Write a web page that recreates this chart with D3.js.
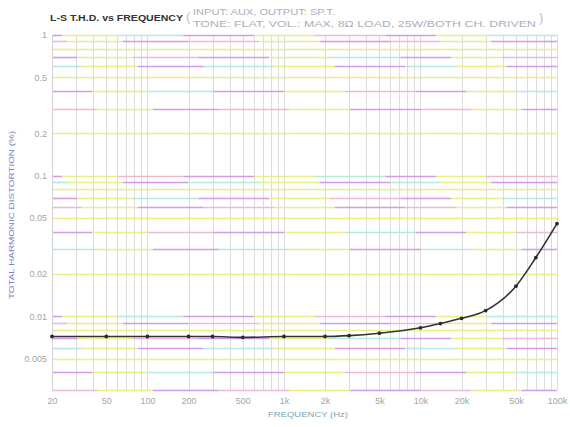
<!DOCTYPE html>
<html>
<head>
<meta charset="utf-8">
<script src="https://cdn.jsdelivr.net/npm/d3@7"></script>
<style>
  html, body { margin: 0; padding: 0; background: #fff; }
  svg { display: block; }
</style>
</head>
<body>
<svg id="chart" width="570" height="427"></svg>
<script>
// Measured THD (%) against frequency (Hz), left channel, 8 ohm load
const freqs = [20, 50, 100, 200, 300, 500, 1000, 2000, 3000, 5000, 10000, 14000, 20000, 30000, 50000, 70000, 100000];
const thd   = [0.0072, 0.0072, 0.0072, 0.0072, 0.0072, 0.0071, 0.0072, 0.0072, 0.0073, 0.0076, 0.0083, 0.0089, 0.0097, 0.0110, 0.0164, 0.0262, 0.0457];

// Axis tick labels
const xTickValues = [20, 50, 100, 200, 500, 1000, 2000, 5000, 10000, 20000, 50000, 100000];
const xTickLabels = ["20", "50", "100", "200", "500", "1k", "2k", "5k", "10k", "20k", "50k", "100k"];
const yTickValues = [1, 0.5, 0.2, 0.1, 0.05, 0.02, 0.01, 0.005];
const yTickLabels = ["1", "0.5", "0.2", "0.1", "0.05", "0.02", "0.01", "0.005"];

// Title texts
const titleMain = "L-S T.H.D. vs FREQUENCY";
const titleNote1 = "INPUT: AUX, OUTPUT: SP.T.";
const titleNote2 = "TONE: FLAT, VOL.: MAX, 8\u03A9 LOAD, 25W/BOTH CH. DRIVEN";
const yTitle = "TOTAL HARMONIC DISTORTION (%)";
const xTitle = "FREQUENCY (Hz)";

const svg = d3.select("#chart");
const plot = { left: 52, right: 557, top: 35, bottom: 390 };

const x = d3.scaleLog().domain([20, 100000]).range([plot.left, plot.right]);
const y = d3.scaleLog().domain([0.003, 1]).range([plot.bottom, plot.top]);

// Minor grid values: every 1..9 multiple within each decade
const xGrid = [];
for (let d = 10; d <= 100000; d *= 10)
  for (let m = 1; m <= 9; m++) { const v = d * m; if (v >= 20 && v <= 100000) xGrid.push(v); }
const yGrid = [];
for (let d = 0.001; d <= 1.0001; d *= 10)
  for (let m = 1; m <= 9; m++) { const v = +(d * m).toPrecision(3); if (v >= 0.003 && v <= 1) yGrid.push(v); }

// Vertical grid (light grey)
svg.append("g").selectAll("line").data(xGrid).join("line")
  .attr("x1", d => Math.round(x(d)) + 0.5).attr("x2", d => Math.round(x(d)) + 0.5)
  .attr("y1", plot.top).attr("y2", plot.bottom)
  .attr("stroke", "#dcdcdc").attr("stroke-width", 1);

// Horizontal grid printed in magenta / yellow / cyan segments
const palette = ["#cf8fe8", "#e8ef7a", "#ade8e1", "#cf8fe8", "#e8ef7a", "#eeb0d4"];
const baseBreaks = [0, 0.06, 0.17, 0.3, 0.44, 0.56, 0.7, 0.8, 0.9, 1];
const hSegs = [];
yGrid.slice().reverse().forEach((v, i) => {
  const shift = ((i * 37) % 9) / 100;
  const br = baseBreaks.map((b, k) => (k === 0 || k === baseBreaks.length - 1) ? b : Math.min(0.99, b + shift - 0.04));
  for (let j = 0; j < br.length - 1; j++) {
    hSegs.push({ v, c: palette[(i * 5 + j * (1 + (i % 3))) % palette.length], a: br[j], b: br[j + 1] });
  }
});
const W = plot.right - plot.left;
svg.append("g").attr("opacity", 0.9).selectAll("line").data(hSegs).join("line")
  .attr("x1", d => plot.left + d.a * W).attr("x2", d => plot.left + d.b * W)
  .attr("y1", d => Math.round(y(d.v)) + 0.5).attr("y2", d => Math.round(y(d.v)) + 0.5)
  .attr("stroke", d => d.c).attr("stroke-width", 1.6);

// X tick labels
const xAxis = d3.axisBottom(x).tickValues(xTickValues)
  .tickFormat((d, i) => xTickLabels[i]).tickSize(0).tickPadding(8);
const gx = svg.append("g").attr("transform", `translate(0,${plot.bottom})`).call(xAxis);
gx.select(".domain").remove();
gx.selectAll("text").attr("font-family", "Liberation Sans Narrow, Liberation Sans, sans-serif")
  .attr("font-size", 9).attr("fill", "#a4a4a4");

// Y tick labels
const yAxis = d3.axisLeft(y).tickValues(yTickValues)
  .tickFormat((d, i) => yTickLabels[i]).tickSize(0).tickPadding(5);
const gy = svg.append("g").attr("transform", `translate(${plot.left},0)`).call(yAxis);
gy.select(".domain").remove();
gy.selectAll("text").attr("font-family", "Liberation Sans Narrow, Liberation Sans, sans-serif")
  .attr("font-size", 9).attr("fill", "#a4a4a4");

// Left frame line
svg.append("line").attr("x1", plot.left + 0.5).attr("x2", plot.left + 0.5)
  .attr("y1", plot.top).attr("y2", plot.bottom).attr("stroke", "#d2d2d2");

// THD curve
const pts = freqs.map((f, i) => [f, thd[i]]);
const line = d3.line().x(d => x(d[0])).y(d => y(d[1])).curve(d3.curveMonotoneX);
svg.append("path").datum(pts).attr("d", line)
  .attr("fill", "none").attr("stroke", "#333").attr("stroke-width", 1.6);
svg.append("g").selectAll("circle").data(pts).join("circle")
  .attr("cx", d => x(d[0])).attr("cy", d => y(d[1])).attr("r", 1.9)
  .attr("fill", "#2a2a2a");

// Titles
svg.append("text").attr("x", 50).attr("y", 21)
  .attr("font-family", "Liberation Sans, sans-serif").attr("font-weight", "bold")
  .attr("font-size", 9).attr("fill", "#333")
  .attr("textLength", 133).attr("lengthAdjust", "spacingAndGlyphs").text(titleMain);
svg.append("text").attr("x", 186).attr("y", 21)
  .attr("font-family", "Liberation Sans, sans-serif").attr("font-size", 13)
  .attr("fill", "#bcbcc6").text("(");
svg.append("text").attr("x", 193).attr("y", 15)
  .attr("font-family", "Liberation Sans, sans-serif").attr("font-size", 9)
  .attr("fill", "#acaebb").attr("textLength", 142).attr("lengthAdjust", "spacingAndGlyphs")
  .text(titleNote1);
svg.append("text").attr("x", 193).attr("y", 27)
  .attr("font-family", "Liberation Sans, sans-serif").attr("font-size", 9)
  .attr("fill", "#acaebb").attr("textLength", 343).attr("lengthAdjust", "spacingAndGlyphs")
  .text(titleNote2);
svg.append("text").attr("x", 539).attr("y", 22)
  .attr("font-family", "Liberation Sans, sans-serif").attr("font-size", 13)
  .attr("fill", "#bcbcc6").text(")");

// Axis titles
svg.append("text")
  .attr("transform", "translate(14,215) rotate(-90)")
  .attr("text-anchor", "middle")
  .attr("font-family", "Liberation Sans, sans-serif").attr("font-size", 7.5)
  .attr("fill", "#7c7cc8").attr("textLength", 168).attr("lengthAdjust", "spacingAndGlyphs")
  .text(yTitle);
svg.append("text").attr("x", 268).attr("y", 417)
  .attr("font-family", "Liberation Sans, sans-serif").attr("font-size", 7.5)
  .attr("fill", "#7aa6b4").attr("textLength", 80).attr("lengthAdjust", "spacingAndGlyphs")
  .text(xTitle);
</script>
</body>
</html>
